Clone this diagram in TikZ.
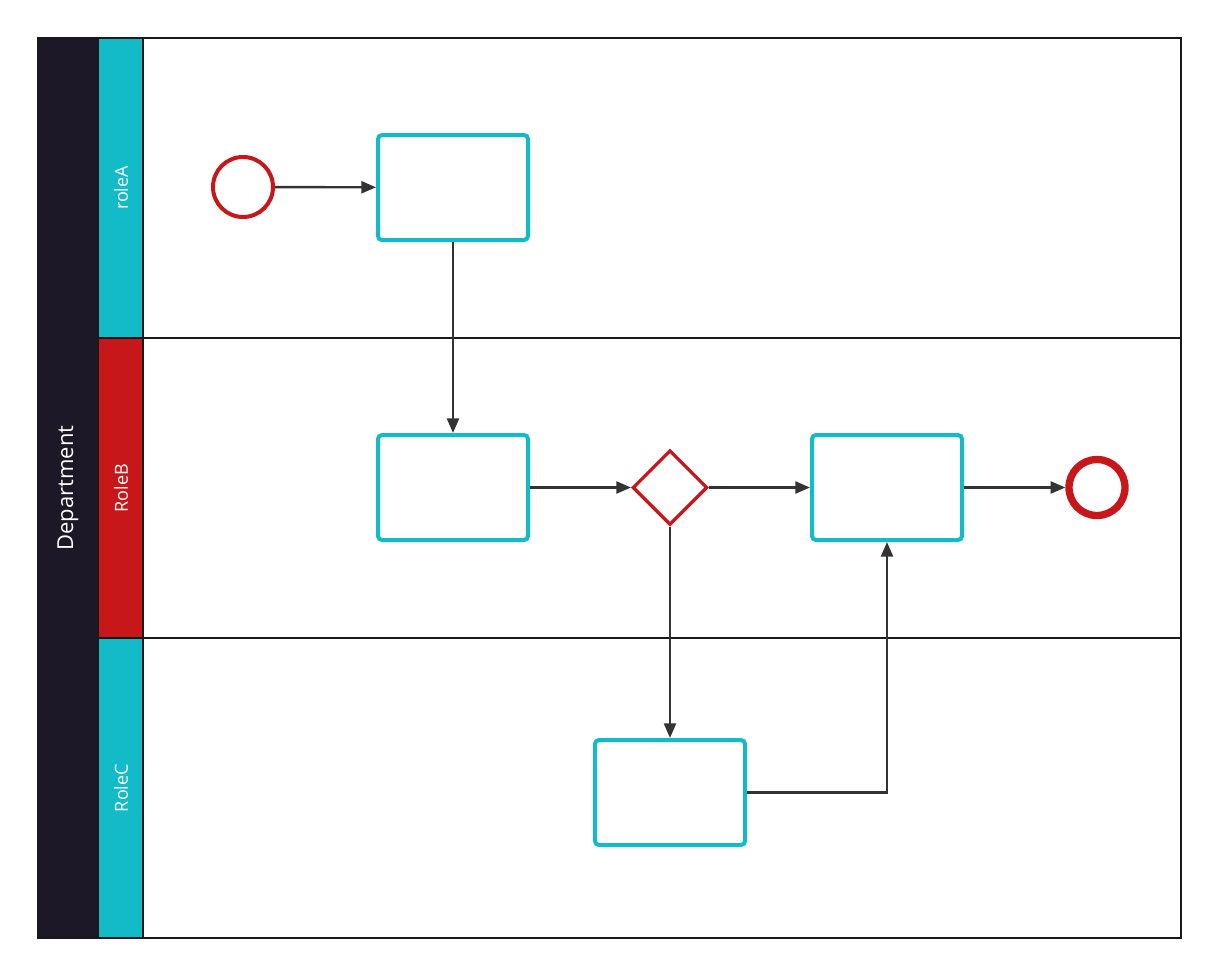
\documentclass[tikz,border=0pt]{standalone}
\usepackage{fontspec}
\setmainfont{Open Sans}
\usetikzlibrary{arrows.meta,shapes.geometric}
\definecolor{dept}{HTML}{1C1828}
\definecolor{teal}{HTML}{13BAC7}
\definecolor{redc}{HTML}{C8171A}
\definecolor{arr}{HTML}{333333}
\tikzset{
 task/.style={draw=teal,line width=3pt,rounded corners=3pt,minimum width=112.5pt,minimum height=78.75pt,fill=white,inner sep=0pt},
 evt/.style={circle,draw=redc,line width=3pt,minimum size=45pt,inner sep=0pt},
 gate/.style={diamond,draw=redc,line width=2.5pt,minimum width=56pt,minimum height=56pt,inner sep=0pt,fill=white},
 flow/.style={draw=arr,line width=1.8pt,-{Triangle[length=11pt,width=9pt]}},
 lane/.style={draw=black!90,line width=2.2pt},
 lbl/.style={text=white,rotate=90}
}
\begin{document}
\begin{tikzpicture}[x=0.75pt,y=-0.75pt]
\useasboundingbox (0,0) rectangle (1218,975);
\fill[dept] (38,38) rectangle (98,938);
\node[lbl,font=\fontsize{16.5}{20}\selectfont] (dep) at (68,488) {Department};
\fill[teal] (98,38) rectangle (143,338);
\fill[redc] (98,338) rectangle (143,638);
\fill[teal] (98,638) rectangle (143,938);
\node[lbl,font=\fontsize{13.5}{16}\selectfont] (ra) at (121,188) {roleA};
\node[lbl,font=\fontsize{13.5}{16}\selectfont] (rb) at (121,488) {RoleB};
\node[lbl,font=\fontsize{13.5}{16}\selectfont] (rc) at (121,788) {RoleC};
\draw[lane] (38,38) rectangle (1181,938);
\draw[lane] (98,38) -- (98,938);
\draw[lane] (143,38) -- (143,938);
\draw[lane] (98,338) -- (1181,338);
\draw[lane] (98,638) -- (1181,638);
\node[evt] (s) at (243,187) {};
\node[task] (t1) at (453,187.5) {};
\node[task] (t2) at (453,487.5) {};
\node[gate] (g) at (670,487.5) {};
\node[task] (t3) at (887,487.5) {};
\node[evt,line width=5.5pt,minimum size=42pt] (e) at (1097,487.5) {};
\node[task] (t4) at (670,792.5) {};
\draw[flow] (s) -- (t1);
\draw[flow] (t1) -- (t2);
\draw[flow] (t2) -- (g);
\draw[flow] (g) -- (t3);
\draw[flow] (t3) -- (e);
\draw[flow] (g) -- (t4);
\draw[flow] (t4.east) -| (t3.south);
\end{tikzpicture}
\end{document}
